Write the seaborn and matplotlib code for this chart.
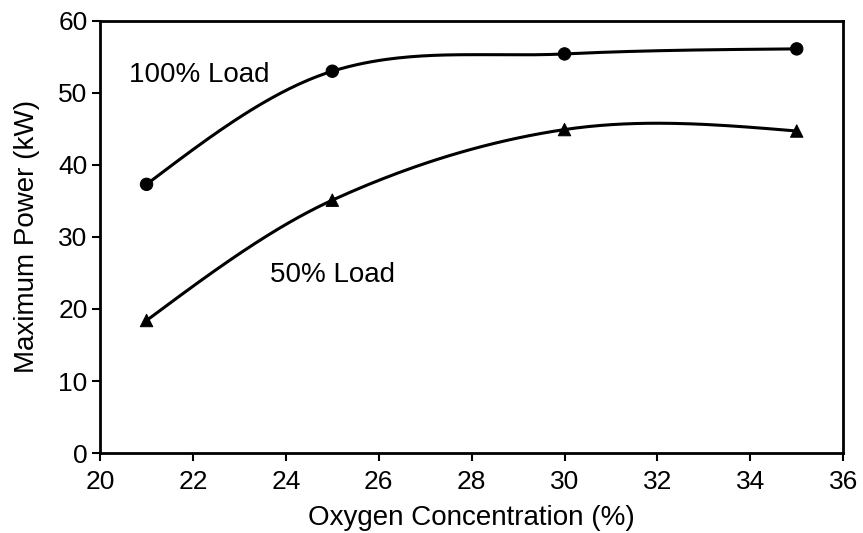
import numpy as np
import pandas as pd
import matplotlib
matplotlib.use("Agg")
import matplotlib.pyplot as plt
import seaborn as sns

oxygen = [21, 25, 30, 35]
power_full = [37.3, 53.0, 55.4, 56.1]
power_half = [18.4, 35.1, 44.9, 44.7]
x_ticks = [20, 22, 24, 26, 28, 30, 32, 34, 36]
y_ticks = [0, 10, 20, 30, 40, 50, 60]


def smooth_curve(x, y, n=60):
    """Catmull-Rom style Hermite curve through the points, natural ends."""
    x = np.asarray(x, float)
    y = np.asarray(y, float)
    k = len(x)
    m = np.zeros(k)
    for i in range(1, k - 1):
        m[i] = (y[i + 1] - y[i - 1]) / (x[i + 1] - x[i - 1])
    s0 = (y[1] - y[0]) / (x[1] - x[0])
    s1 = (y[-1] - y[-2]) / (x[-1] - x[-2])
    m[0] = (3 * s0 - m[1]) / 2
    m[-1] = (3 * s1 - m[-2]) / 2
    xs_all, ys_all = [], []
    for i in range(k - 1):
        h = x[i + 1] - x[i]
        t = np.linspace(0, 1, n, endpoint=(i == k - 2))
        h00 = 2 * t**3 - 3 * t**2 + 1
        h10 = t**3 - 2 * t**2 + t
        h01 = -2 * t**3 + 3 * t**2
        h11 = t**3 - t**2
        xs_all.append(x[i] + t * h)
        ys_all.append(h00 * y[i] + h10 * h * m[i] + h01 * y[i + 1] + h11 * h * m[i + 1])
    return np.concatenate(xs_all), np.concatenate(ys_all)


sns.set_style("ticks")
plt.rcParams["font.family"] = ["Liberation Sans", "DejaVu Sans"]

fig, ax = plt.subplots(figsize=(8.63, 5.33), dpi=100)
fig.subplots_adjust(left=0.116, right=0.977, top=0.961, bottom=0.15)

pts = pd.DataFrame({
    "oxygen": oxygen * 2,
    "power": power_full + power_half,
    "load": ["100%"] * 4 + ["50%"] * 4,
})

for vals in (power_full, power_half):
    xs, ys = smooth_curve(oxygen, vals)
    sns.lineplot(x=xs, y=ys, ax=ax, color="black", linewidth=2.2, sort=False)

sns.scatterplot(data=pts, x="oxygen", y="power", style="load",
                markers={"100%": "o", "50%": "^"}, color="black",
                s=80, edgecolor="black", ax=ax, legend=False, zorder=5)

ax.text(20.62, 52.5, "100% Load", fontsize=20, ha="left", va="center", color="black")
ax.text(23.65, 24.7, "50% Load", fontsize=20, ha="left", va="center", color="black")

ax.set_xlim(20, 36)
ax.set_ylim(0, 60)
ax.set_xticks(x_ticks)
ax.set_yticks(y_ticks)
ax.tick_params(axis="both", labelsize=19, direction="out", length=6,
               width=1.5, color="black", labelcolor="black")
ax.tick_params(axis="x", pad=6.5)
ax.tick_params(axis="y", pad=3)
ax.set_xlabel("Oxygen Concentration (%)", fontsize=20, color="black", labelpad=7.5)
ax.set_ylabel("Maximum Power (kW)", fontsize=20, color="black", labelpad=13)
for s in ax.spines.values():
    s.set_visible(True)
    s.set_linewidth(2)
    s.set_color("black")

fig.savefig("out.png", dpi=100)
